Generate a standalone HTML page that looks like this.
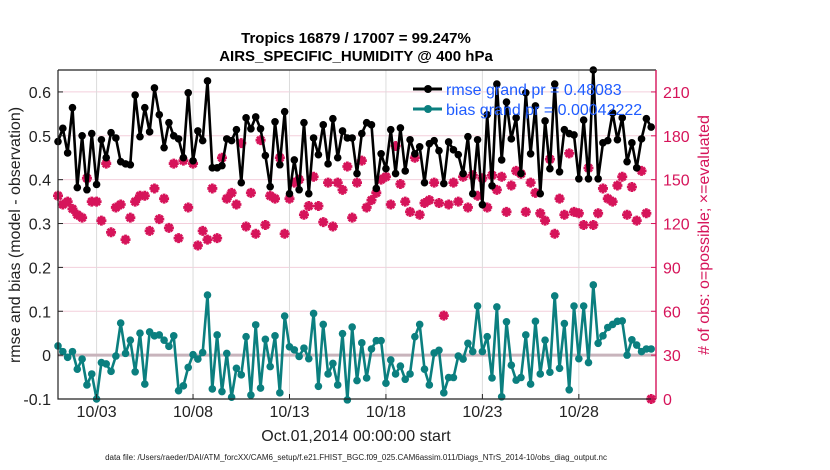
<!DOCTYPE html>
<html><head><meta charset="utf-8"><style>
body{margin:0;background:#fff;}
svg{display:block;font-family:"Liberation Sans",Arial,sans-serif;}
</style></head><body>
<svg id="chart" width="830" height="470" viewBox="0 0 830 470">
<rect width="830" height="470" fill="#fff"/>
<text x="356" y="43" text-anchor="middle" font-size="15" font-weight="bold">Tropics 16879 / 17007 = 99.247%</text>
<text x="356" y="61" text-anchor="middle" font-size="15" font-weight="bold">AIRS_SPECIFIC_HUMIDITY @ 400 hPa</text>
<g id="grid"></g>
<g id="marks"></g>
<g id="axes"></g>
<text transform="translate(20,235) rotate(-90)" text-anchor="middle" font-size="16" fill="#222">rmse and bias (model - observation)</text>
<text transform="translate(709,235) rotate(-90)" text-anchor="middle" font-size="16" fill="#d6145a"># of obs: o=possible; ×=evaluated</text>
<text x="356" y="441" text-anchor="middle" font-size="16" fill="#222">Oct.01,2014 00:00:00 start</text>
<text x="356" y="460" text-anchor="middle" font-size="8" fill="#222">data file: /Users/raeder/DAI/ATM_forcXX/CAM6_setup/f.e21.FHIST_BGC.f09_025.CAM6assim.011/Diags_NTrS_2014-10/obs_diag_output.nc</text>
<g id="legend">
<line x1="413" y1="89" x2="442" y2="89" stroke="#000" stroke-width="3"/><circle cx="428" cy="89" r="4" fill="#000"/>
<line x1="413" y1="109" x2="442" y2="109" stroke="#0b7f7f" stroke-width="3"/><circle cx="428" cy="109" r="4" fill="#0b7f7f"/>
</g>
<script>
const rmseValues=[.487,.517,.461,.564,.382,.500,.377,.505,.389,.491,.450,.507,.495,.441,.436,.434,.593,.498,.564,.509,.609,.548,.473,.530,.500,.493,.450,.598,.443,.511,.489,.625,.427,.427,.432,.493,.489,.514,.393,.541,.516,.543,
.516,.455,.384,.532,.434,.555,.368,.445,.377,.530,.368,.495,.457,.525,.436,.539,.450,.511,.495,.495,.414,.505,.530,.525,.380,.459,.425,.514,.414,.518,.420,.491,.459,.475,.393,.482,.489,.466,.391,.486,.468,.457,
.414,.498,.368,.491,.343,.548,.386,.618,.445,.577,.493,.541,.414,.598,.459,.568,.368,.534,.425,.618,.418,.514,.505,.502,.402,.536,.402,.650,.402,.484,.489,.552,.491,.541,.441,.484,.427,.493,.539,.520];
const biasValues=[.021,.008,-.005,.008,-.032,-.009,-.068,-.043,-.100,-.017,-.020,-.037,-.002,.073,.004,.034,-.038,.050,-.066,.053,.044,.046,.034,.020,.044,-.081,-.070,-.028,.001,-.009,.006,.137,-.077,.046,-.083,.004,-.096,-.030,-.045,.042,-.091,.069,
-.075,.036,-.026,.044,-.086,.089,.019,.012,-.003,.016,-.008,.095,-.071,.070,-.043,-.019,-.068,.049,-.102,.064,-.058,.028,-.052,.014,.033,.033,-.064,-.011,-.043,-.025,-.055,-.043,.042,.070,-.032,-.068,.005,.011,-.086,-.051,-.051,-.002,
-.009,.027,.008,.112,.008,.042,-.052,.110,-.095,.076,-.023,-.057,-.051,.046,-.066,.077,-.043,.034,-.039,.135,-.030,.072,-.079,.112,-.008,.112,-.017,.160,.027,.044,.063,.070,.077,.078,.000,.035,.023,.008,.014,.014];
const obsCounts=[139,133,135,130,126,124,151,135,135,122,161,114,131,133,109,124,135,139,139,115,144,123,137,117,161,110,163,131,161,105,115,109,144,110,165,137,141,133,175,118,141,113,
177,119,139,137,165,113,137,148,150,126,132,152,132,121,148,118,148,143,159,124,148,163,131,136,141,150,152,133,173,147,135,128,165,126,134,136,148,134,57,133,148,135,
152,131,153,139,151,131,153,143,152,128,146,156,154,128,148,141,127,122,164,113,137,126,168,128,127,119,158,119,127,144,137,135,146,152,126,145,122,156,127,0];
const xTickLabels=["10/03","10/08","10/13","10/18","10/23","10/28"];
const xTickDays=[2,7,12,17,22,27];
const yLeftTicks=[-0.1,0,0.1,0.2,0.3,0.4,0.5,0.6];
const yRightTicks=[0,30,60,90,120,150,180,210];
const legendLabels=["rmse grand pr = 0.48083","bias grand pr = 0.00042222"];

const L=58,R=656,T=70,B=399;
const X=d=>L+d*(R-L)/31;
const Y=v=>B-(v+0.1)*(B-T)/0.75;
const YRight=n=>B-n/30*(0.1*(B-T)/0.75);
const idxDay=i=>i/4;
const NS="http://www.w3.org/2000/svg";
function mk(tag,attrs,parent){const e=document.createElementNS(NS,tag);for(const k in attrs)e.setAttribute(k,attrs[k]);parent.appendChild(e);return e;}
const grid=document.getElementById('grid'),marks=document.getElementById('marks'),axes=document.getElementById('axes'),legend=document.getElementById('legend');

yLeftTicks.forEach(v=>{const g=mk('line',{x1:L,x2:R,y1:Y(v),y2:Y(v),stroke:'#f3cfdc','stroke-width':1},grid);

});
xTickDays.forEach(d=>{const g=mk('line',{x1:X(d),x2:X(d),y1:T,y2:B,stroke:'#dcdcdc','stroke-width':1},grid);

});
const zl=mk('line',{x1:L,x2:R,y1:Y(0),y2:Y(0),stroke:'#c8b4bc','stroke-width':3},grid);



obsCounts.forEach((n,i)=>{const x=X(idxDay(i)),y=YRight(n);
const g=mk('g',{},marks);


mk('path',{d:`M${x-5} ${y}H${x+5}M${x} ${y-5}V${y+5}M${x-3.5} ${y-3.5}L${x+3.5} ${y+3.5}M${x-3.5} ${y+3.5}L${x+3.5} ${y-3.5}`,stroke:'#d6145a','stroke-width':2.8},g);
mk('circle',{cx:x,cy:y,r:3,fill:'#d6145a'},g);});

function series(vals,color,name){
const pts=vals.map((v,i)=>X(idxDay(i)).toFixed(1)+','+Y(v).toFixed(1)).join(' ');
const pl=mk('polyline',{points:pts,fill:'none',stroke:color,'stroke-width':2.6,'stroke-linejoin':'round'},marks);


vals.forEach((v,i)=>{const c=mk('circle',{cx:X(idxDay(i)),cy:Y(v),r:3.8,fill:color},marks);

});}
series(rmseValues,'#000','rmse');
series(biasValues,'#0b7f7f','bias');

legendLabels.forEach((s,i)=>{const t=mk('text',{x:446,y:95+i*20,'font-size':16,fill:'#1f5cff'},legend);t.textContent=s;

});

const fr=mk('path',{d:`M${L} ${T}V${B}H${R}M${L} ${T}H${R}`,fill:'none',stroke:'#222','stroke-width':1.2},axes);


const rs=mk('line',{x1:R,x2:R,y1:T,y2:B,stroke:'#d6145a','stroke-width':1.4},axes);


yLeftTicks.forEach(v=>{mk('line',{x1:L,x2:L+5,y1:Y(v),y2:Y(v),stroke:'#222'},axes);
const t=mk('text',{x:L-7,y:Y(v)+6,'text-anchor':'end','font-size':16,fill:'#222'},axes);t.textContent=(v===0?'0':String(v));

});
yRightTicks.forEach(n=>{mk('line',{x1:R-5,x2:R,y1:YRight(n),y2:YRight(n),stroke:'#d6145a'},axes);
const t=mk('text',{x:R+7,y:YRight(n)+6,'font-size':16,fill:'#d6145a'},axes);t.textContent=String(n);

});
xTickDays.forEach((d,i)=>{mk('line',{x1:X(d),x2:X(d),y1:B,y2:B-5,stroke:'#222'},axes);
const t=mk('text',{x:X(d),y:B+18,'text-anchor':'middle','font-size':16,fill:'#222'},axes);t.textContent=xTickLabels[i];

});
</script>
</svg>
</body></html>
